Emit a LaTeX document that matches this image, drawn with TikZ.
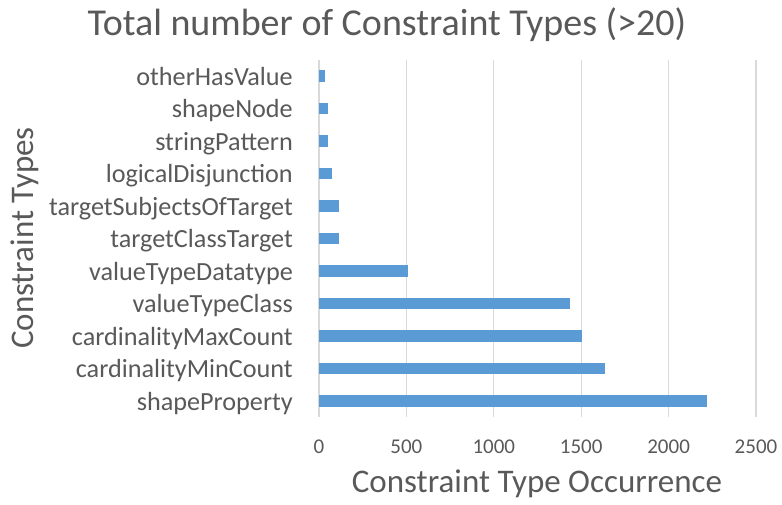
\documentclass[tikz,border=0pt]{standalone}
\usepackage{fontspec}
\setmainfont{Carlito}
\usetikzlibrary{positioning}
\definecolor{barblue}{HTML}{5B9BD5}
\definecolor{txtgray}{HTML}{595959}
\definecolor{gridgray}{HTML}{D9D9D9}

\begin{document}
\begin{tikzpicture}[
    x=1pt, y=-1pt,
    bar/.style={fill=barblue, draw=none},
    gridline/.style={draw=gridgray, line width=1.3pt},
    catlabel/.style={anchor=base east, text=txtgray, inner sep=0pt, font=\fontsize{26.2}{28}\selectfont},
    ticklabel/.style={anchor=base, text=txtgray, inner sep=0pt, font=\fontsize{21}{24}\selectfont},
    axistitle/.style={anchor=base, text=txtgray, inner sep=0pt, font=\fontsize{33}{36}\selectfont},
    charttitle/.style={anchor=base, text=txtgray, inner sep=0pt, font=\fontsize{38}{42}\selectfont}
]
\useasboundingbox (0,0) rectangle (782,504);

% Grid and value ticks
\foreach \t [count=\k from 0] in {0,500,...,2500} {
  \draw[gridline] (319+\k*87.4,60) -- (319+\k*87.4,417);
  \node[ticklabel] (tick\k) at (319+\k*87.4,453) {\t};
}

% Bars and categories
\foreach \name/\val [count=\i] in {otherHasValue/32, shapeNode/51, stringPattern/51,
    logicalDisjunction/76, targetSubjectsOfTarget/113, targetClassTarget/114,
    valueTypeDatatype/511, valueTypeClass/1434, cardinalityMaxCount/1503,
    cardinalityMinCount/1638, shapeProperty/2218} {
  \pgfmathsetmacro\yc{76+32.5*(\i-1)}
  \fill[bar] (319,\yc-5.75) rectangle ({319+\val*0.1748},\yc+5.75);
  \node[catlabel] (cat\i) at (293,\yc+9) {\name};
}

% Titles
\node[charttitle] (title) at (387,35) {Total number of Constraint Types (>20)};
\node[axistitle] (xtitle) at (537,492.7) {Constraint Type Occurrence};
\node[axistitle, rotate=90] (ytitle) at (33.5,238) {Constraint Types};

\end{tikzpicture}
\end{document}
